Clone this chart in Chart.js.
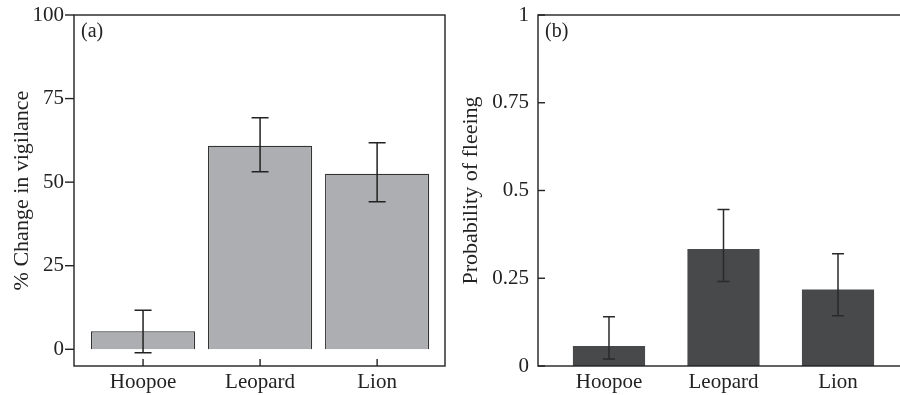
<!DOCTYPE html>
<html><head><meta charset="utf-8">
<script src="https://cdn.jsdelivr.net/npm/chart.js@4/dist/chart.umd.min.js"></script>
<style>
html,body{margin:0;padding:0;background:#fff;overflow:hidden;width:900px;height:395px;}
#wa{position:absolute;left:0;top:0;width:450px;height:395px;}
#wb{position:absolute;left:450px;top:0;width:460px;height:395px;}
</style></head><body>
<div id="wa"><canvas id="ca"></canvas></div>
<div id="wb"><canvas id="cb"></canvas></div>
<script>
const categories = ['Hoopoe', 'Leopard', 'Lion'];
const vigilance = [5.4, 60.9, 52.5];
const vigilanceLow = [-1.0, 53.1, 44.1];
const vigilanceHigh = [11.7, 69.3, 61.8];
const vigilanceTicks = [0, 25, 50, 75, 100];
const fleeing = [0.057, 0.333, 0.218];
const fleeingLow = [0.02, 0.241, 0.143];
const fleeingHigh = [0.14, 0.446, 0.32];
const fleeingTicks = [0, 0.25, 0.5, 0.75, 1];

const FONT = '"Liberation Serif", "Times New Roman", serif';
const INK = '#222';

function panelPlugin(cfg) {
  return {
    id: 'panel' + cfg.label,
    afterDatasetsDraw(chart) {
      const ctx = chart.ctx, a = chart.chartArea, xs = chart.scales.x, ys = chart.scales.y;
      ctx.save();
      ctx.strokeStyle = cfg.errColor; ctx.lineWidth = cfg.errWidth;
      cfg.lows.forEach((lo, i) => {
        const x = xs.getPixelForValue(i);
        const y1 = ys.getPixelForValue(lo), y2 = ys.getPixelForValue(cfg.highs[i]);
        ctx.beginPath();
        ctx.moveTo(x, y1); ctx.lineTo(x, y2);
        ctx.moveTo(x - cfg.cap, y1); ctx.lineTo(x + cfg.cap, y1);
        ctx.moveTo(x - cfg.cap, y2); ctx.lineTo(x + cfg.cap, y2);
        ctx.stroke();
      });
      ctx.strokeStyle = INK; ctx.lineWidth = 1.4;
      ctx.strokeRect(a.left, a.top, a.right - a.left, a.bottom - a.top);
      cfg.yTicks.forEach(v => {
        const y = ys.getPixelForValue(v);
        ctx.beginPath(); ctx.moveTo(a.left, y); ctx.lineTo(a.left + cfg.yTickDir * cfg.yTickLen, y); ctx.stroke();
      });
      if (cfg.xTickLen) {
        categories.forEach((c, i) => {
          const x = xs.getPixelForValue(i);
          ctx.beginPath(); ctx.moveTo(x, a.bottom); ctx.lineTo(x, a.bottom - cfg.xTickLen); ctx.stroke();
        });
      }
      ctx.fillStyle = INK; ctx.font = '20px ' + FONT; ctx.textBaseline = 'top'; ctx.textAlign = 'left';
      ctx.fillText(cfg.label, a.left + 7, a.top + 7);
      ctx.restore();
    }
  };
}

function makeChart(id, o) {
  return new Chart(document.getElementById(id), {
    type: 'bar',
    data: {
      datasets: [{
        data: o.values.map((v, i) => ({ x: i, y: v })),
        backgroundColor: o.fill, borderColor: o.border, borderWidth: o.borderWidth,
        barPercentage: o.barPct, categoryPercentage: 1
      }]
    },
    options: {
      responsive: true, maintainAspectRatio: false, animation: false, devicePixelRatio: 1,
      layout: { padding: o.padding },
      plugins: { legend: { display: false }, tooltip: { enabled: false } },
      scales: {
        x: {
          type: 'linear', min: o.xMin, max: o.xMax, offset: false,
          grid: { display: false, drawTicks: false }, border: { display: false },
          afterBuildTicks: s => { s.ticks = categories.map((c, i) => ({ value: i })); },
          afterFit: s => { s.height = o.xHeight; s.paddingLeft = 0; s.paddingRight = 0; },
          ticks: { callback: v => categories[v], padding: o.xPad, color: INK, font: { family: FONT, size: 21 }, maxRotation: 0, autoSkip: false }
        },
        y: {
          min: o.yMin, max: o.yMax,
          grid: { display: false, drawTicks: false }, border: { display: false },
          afterBuildTicks: s => { s.ticks = o.ticks.map(v => ({ value: v })); },
          afterFit: s => { s.width = o.yWidth; s.paddingTop = 0; s.paddingBottom = 0; },
          ticks: { callback: v => String(v), padding: o.yPad, color: INK, font: { family: FONT, size: 21 }, autoSkip: false },
          title: { display: true, text: o.title, color: INK, font: { family: FONT, size: 22 }, padding: { top: o.titlePad, bottom: 0 } }
        }
      }
    },
    plugins: [panelPlugin(o.panel)]
  });
}

makeChart('ca', {
  values: vigilance, fill: '#adaeb1', border: '#333', borderWidth: 1.3, barPct: 0.89,
  padding: { top: 15, right: 5, left: 0, bottom: 0 },
  xMin: -0.59, xMax: 2.58, xHeight: 29, xPad: 4,
  yMin: -5, yMax: 100, ticks: vigilanceTicks, yWidth: 74, yPad: 10,
  title: '% Change in vigilance', titlePad: 9,
  panel: { label: '(a)', lows: vigilanceLow, highs: vigilanceHigh, errColor: '#222', errWidth: 1.5, cap: 8.5, yTicks: vigilanceTicks, yTickDir: -1, yTickLen: 9, xTickLen: 7 }
});

makeChart('cb', {
  values: fleeing, fill: '#48494b', border: '#48494b', borderWidth: 0, barPct: 0.63,
  padding: { top: 15, right: 1, left: 0, bottom: 0 },
  xMin: -0.62, xMax: 2.62, xHeight: 29, xPad: 4,
  yMin: 0, yMax: 1, ticks: fleeingTicks, yWidth: 88, yPad: 9,
  title: 'Probability of fleeing', titlePad: 8,
  panel: { label: '(b)', lows: fleeingLow, highs: fleeingHigh, errColor: '#2a2a2a', errWidth: 1.5, cap: 6, yTicks: fleeingTicks, yTickDir: 1, yTickLen: 7, xTickLen: 0 }
});
</script>
</body></html>
